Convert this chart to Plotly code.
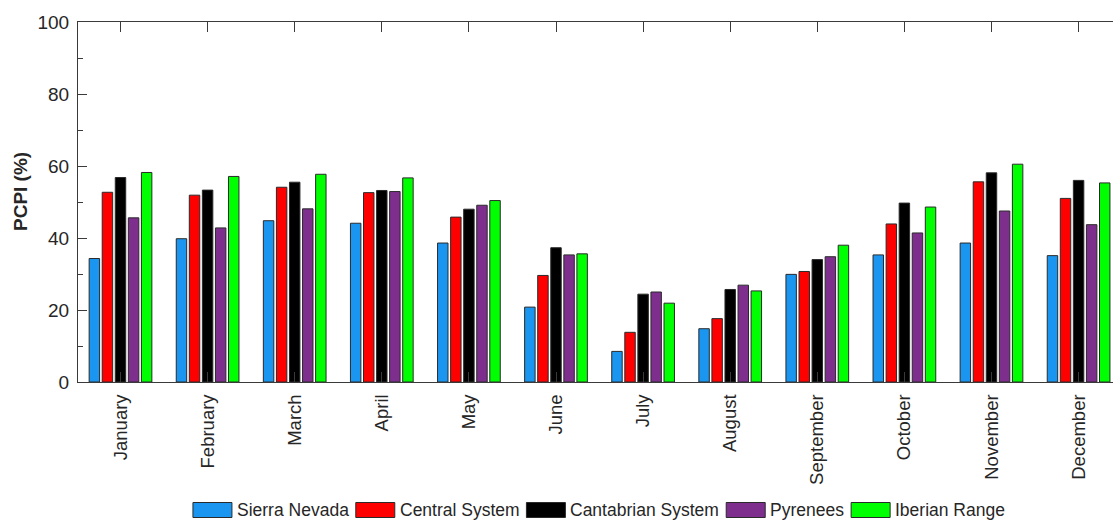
import plotly.graph_objects as go

# Monthly PCPI (%) for each mountain range
months = ["January", "February", "March", "April", "May", "June", "July",
          "August", "September", "October", "November", "December"]
series_names = ["Sierra Nevada", "Central System", "Cantabrian System",
                "Pyrenees", "Iberian Range"]
sierra_nevada = [34.3, 39.8, 44.8, 44.1, 38.6, 20.8, 8.5, 14.8, 29.9, 35.3, 38.6, 35.1]
central_system = [52.7, 51.9, 54.1, 52.6, 45.8, 29.6, 13.8, 17.6, 30.7, 43.9, 55.6, 51.0]
cantabrian_system = [56.8, 53.3, 55.5, 53.2, 48.0, 37.3, 24.4, 25.7, 34.0, 49.7, 58.1, 56.0]
pyrenees = [45.6, 42.8, 48.1, 52.9, 49.1, 35.3, 25.0, 26.9, 34.8, 41.4, 47.5, 43.7]
iberian_range = [58.2, 57.1, 57.7, 56.7, 50.4, 35.6, 21.9, 25.3, 38.0, 48.6, 60.5, 55.3]
y_ticks = [0, 20, 40, 60, 80, 100]

series_values = [sierra_nevada, central_system, cantabrian_system, pyrenees, iberian_range]
colors = ["#1A96F0", "#FF0000", "#000000", "#7E2F8E", "#00FF00"]

FONT = "Liberation Sans, Arial, sans-serif"
TEXT = "#262626"
AXIS = "#3a3a3a"

W, H = 1113, 522
ML, MR, MT, MB = 78, 0, 22, 140
PW, PH = W - ML - MR, H - MT - MB

x_idx = list(range(len(months)))

fig = go.Figure()
for name, vals, col in zip(series_names, series_values, colors):
    fig.add_trace(go.Bar(
        x=x_idx, y=vals, name=name, showlegend=False,
        marker=dict(color=col, line=dict(color="#2a2a2a", width=1)),
    ))


def px_x(px):
    return (px - ML) / PW


def px_y(py):
    return (H - MB - py) / PH


# Legend drawn as wide swatches with labels, centred under the axes
char_w = {" ": .278, "S": .667, "i": .222, "e": .556, "r": .333, "a": .556,
          "N": .722, "v": .5, "d": .556, "C": .722, "n": .556, "t": .278,
          "l": .222, "y": .5, "s": .5, "m": .833, "b": .556, "P": .667,
          "I": .278, "R": .722, "g": .556}
leg_font = 17.5
sw_w, sw_h, sw_gap, item_gap = 39, 15, 3, 9
widths = [sum(char_w.get(c, .556) for c in n) * leg_font for n in series_names]
total = sum(sw_w + sw_gap + w for w in widths) + item_gap * (len(widths) - 1)
cx = 598
x0 = cx - total / 2
ly = 510
shapes = []
annotations = []
for name, col, w in zip(series_names, colors, widths):
    shapes.append(dict(type="rect", xref="paper", yref="paper",
                       x0=px_x(x0), x1=px_x(x0 + sw_w),
                       y0=px_y(ly + sw_h / 2), y1=px_y(ly - sw_h / 2),
                       fillcolor=col, line=dict(color="#2a2a2a", width=1)))
    annotations.append(dict(xref="paper", yref="paper", x=px_x(x0 + sw_w + sw_gap),
                            y=px_y(ly), xanchor="left", yanchor="middle",
                            text=name, showarrow=False,
                            font=dict(family=FONT, size=leg_font, color=TEXT)))
    x0 += sw_w + sw_gap + w + item_gap

annotations.append(dict(xref="paper", yref="paper", x=px_x(20), y=px_y(192),
                        xanchor="center", yanchor="middle", textangle=-90,
                        text="<b>PCPI (%)</b>", showarrow=False,
                        font=dict(family=FONT, size=19, color=TEXT)))

fig.update_layout(
    width=W, height=H,
    margin=dict(l=ML, r=MR, t=MT, b=MB, autoexpand=False),
    paper_bgcolor="white", plot_bgcolor="white",
    barmode="group", bargap=0.25, bargroupgap=0.2,
    font=dict(family=FONT, color=TEXT),
    shapes=shapes, annotations=annotations,
    xaxis=dict(
        range=[-0.488, 11.395], tickmode="array", tickvals=x_idx, ticktext=months,
        tickangle=-90, tickfont=dict(size=18.5, color=TEXT),
        showline=True, linecolor=AXIS, linewidth=1, mirror="ticks",
        ticks="inside", ticklen=10, tickcolor=AXIS,
        showgrid=False, zeroline=False, ticklabelstandoff=4,
    ),
    yaxis=dict(
        range=[0, 100], tickmode="array", tickvals=y_ticks,
        tickfont=dict(size=19, color=TEXT),
        showline=True, linecolor=AXIS, linewidth=1,
        ticks="inside", ticklen=9, tickcolor=AXIS,
        minor=dict(tickmode="linear", tick0=0, dtick=10, ticks="inside",
                   ticklen=5, tickcolor=AXIS),
        showgrid=False, zeroline=False, ticklabelstandoff=4,
    ),
)

fig.write_html("out.html")
